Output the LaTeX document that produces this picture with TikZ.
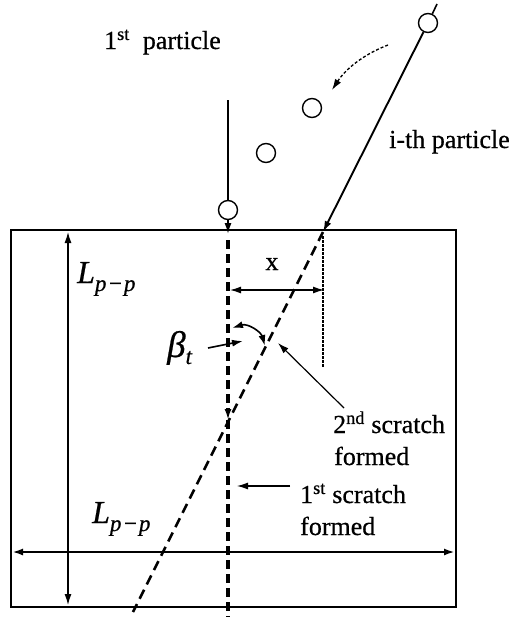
\documentclass[tikz,border=0pt]{standalone}
\usepackage{fontspec}
\setmainfont[FakeBold=0.6]{Liberation Serif}
\usetikzlibrary{arrows.meta}
\tikzset{
  lbl/.style={inner sep=0pt, anchor=base west, font=\fontsize{26}{30}\selectfont},
  ptc/.style={draw, circle, minimum size=19pt, inner sep=0pt, line width=1.4pt},
  arr/.style={-{Latex[length=11pt,width=7pt]}},
  darr/.style={{Latex[length=11pt,width=7pt]}-{Latex[length=11pt,width=7pt]}},
  thickdash/.style={line width=3.6pt, dash pattern=on 9pt off 5pt},
  slantdash/.style={line width=2.6pt, dash pattern=on 10pt off 6pt},
  finedash/.style={line width=1.1pt, dash pattern=on 2.5pt off 1.5pt},
}
\newcommand{\Lsub}{{\fontsize{32}{32}\selectfont\itshape L}\raisebox{-8pt}{\fontsize{23}{23}\selectfont\itshape p\kern1pt−\kern1pt p}}
\begin{document}
\begin{tikzpicture}[x=1pt,y=-1pt]
\useasboundingbox (0,0) rectangle (518,618);
% plate
\draw[line width=1.7pt] (11,230) rectangle (456,607);
% particles
\node[ptc] (c1) at (228,210) {};
\node[ptc] (c2) at (266,153) {};
\node[ptc] (c3) at (312,108) {};
\node[ptc] (c4) at (428,23) {};
\coordinate (p1top) at (228,100);
\coordinate (p1hit) at (228,234);
\coordinate (s1a) at (228,240);
\coordinate (s1m) at (228,420);
\coordinate (s1b) at (228,617);
\coordinate (c4tail) at (437,4);
\coordinate (s2a) at (323,232);
\coordinate (s2b) at (133,612);
\draw[line width=1.6pt] (p1top) -- (c1.north);
\draw[line width=1.6pt, arr] (c1.south) -- (p1hit);
\draw[thickdash, arr] (s1a) -- (s1m);
\draw[thickdash] (s1m) -- (s1b);
\draw[slantdash] (s2a) -- (s2b);
\draw[line width=1.6pt] (c4tail) -- (c4);
\draw[line width=1.9pt, arr] (c4) -- (s2a);
% dashed motion arrow
\coordinate (m1) at (388,45);
\coordinate (m2) at (332,90);
\draw[line width=1.3pt, dash pattern=on 3pt off 2pt, arr] (m1) .. controls (362,55) and (345,70) .. (m2);
% x dimension
\coordinate (xa) at (230,290);
\coordinate (xb) at (324,290);
\draw[line width=1.3pt, darr] (xa) -- (xb);
\coordinate (xv1) at (323,236);
\coordinate (xv2) at (323,368);
\draw[finedash] (xv1) -- (xv2);
\node[lbl, anchor=base] (xl) at (272,270) {x};
% beta
\coordinate (ba) at (232,328);
\coordinate (bb) at (265,346);
\draw[line width=1.6pt, darr] (ba) .. controls (248,323) and (261,332) .. (bb);
\node[inner sep=0pt, anchor=base west] (bl) at (167,357) {\fontsize{37}{37}\selectfont\itshape β\raisebox{-7pt}{\fontsize{23}{23}\selectfont t}};
\coordinate (bt1) at (208,348);
\coordinate (bt2) at (243,341);
\draw[line width=1.6pt, arr] (bt1) -- (bt2);
% labels and pointers
\node[lbl] (ith) at (389,148) {i-th particle};
\node[lbl] (fst) at (104,49) {1\textsuperscript{st}\ \ particle};
\node[lbl] (sc2) at (333,433) {2\textsuperscript{nd} scratch};
\node[lbl] (sc2b) at (334,465) {formed};
\node[lbl] (sc1) at (300,503) {1\textsuperscript{st} scratch};
\node[lbl] (sc1b) at (300,535) {formed};
\coordinate (a2s) at (344,408);
\coordinate (a2e) at (278,343);
\draw[line width=1.2pt, arr] (a2s) -- (a2e);
\coordinate (a1s) at (290,486);
\coordinate (a1e) at (237,486);
\draw[line width=1.2pt, arr] (a1s) -- (a1e);
% dimensions
\coordinate (va) at (68,232);
\coordinate (vb) at (68,605);
\draw[line width=1.3pt, darr] (va) -- (vb);
\coordinate (ha) at (12,552);
\coordinate (hb) at (455,552);
\draw[line width=2.2pt, darr] (ha) -- (hb);
\node[inner sep=0pt, anchor=base west] (L1) at (77,283) {\Lsub};
\node[inner sep=0pt, anchor=base west] (L2) at (92,523) {\Lsub};
\end{tikzpicture}
\end{document}
